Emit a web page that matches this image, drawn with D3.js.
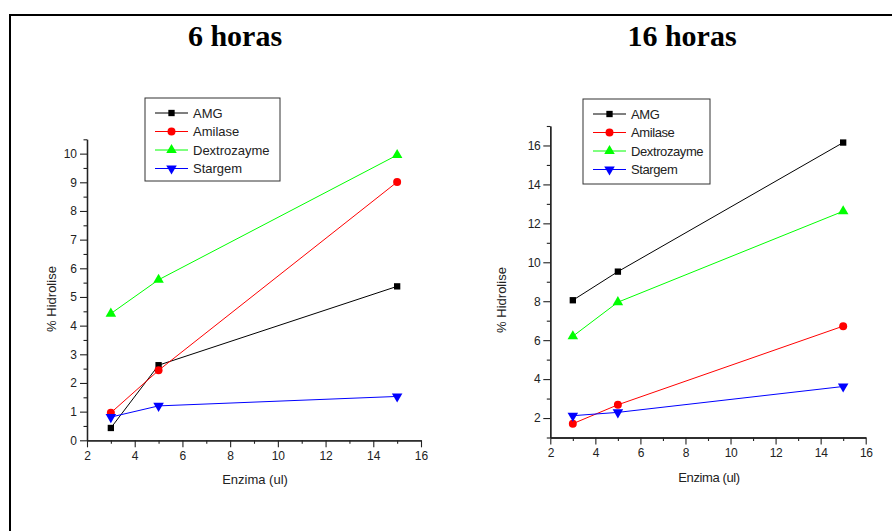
<!DOCTYPE html>
<html>
<head>
<meta charset="utf-8">
<script src="https://cdn.jsdelivr.net/npm/d3@7"></script>
<style>
  body { margin: 0; background: #fff; }
  text { font-family: Arial, "Liberation Sans", sans-serif; }
</style>
</head>
<body>
<div id="container"></div>
<script>
// enzyme volume (ul)
let enzima = [3, 5, 15]
let seriesNames = ['AMG', 'Amilase', 'Dextrozayme', 'Stargem']
let seriesColors = ['#000000', '#ff0000', '#00ff00', '#0000ff']
let seriesSymbols = ['square', 'circle', 'triangle', 'triangleDown']

// % hidrolise after 6 hours
let amg6 = [0.43, 2.62, 5.37]
let amilase6 = [0.96, 2.44, 9.01]
let dextro6 = [4.42, 5.60, 9.95]
let stargem6 = [0.81, 1.20, 1.53]

// % hidrolise after 16 hours
let amg16 = [8.05, 9.52, 16.15]
let amilase16 = [1.71, 2.68, 6.72]
let dextro16 = [6.20, 7.95, 12.62]
let stargem16 = [2.12, 2.29, 3.62]

let xTicks = [2, 4, 6, 8, 10, 12, 14, 16]
let yTicks6 = [0, 1, 2, 3, 4, 5, 6, 7, 8, 9, 10]
let yTicks16 = [2, 4, 6, 8, 10, 12, 14, 16]

let width = 892
let height = 531

let svg = d3.select('#container').append('svg')
  .attr('width', width)
  .attr('height', height)

// outer frame
svg.append('rect')
  .attr('x', 10).attr('y', 15)
  .attr('width', 900).attr('height', 540)
  .attr('fill', 'none')
  .attr('stroke', '#000')
  .attr('stroke-width', 2)

function symbolPath(kind) {
  if (kind == 'square') return d3.symbol(d3.symbolSquare, 40)()
  if (kind == 'circle') return d3.symbol(d3.symbolCircle, 50)()
  return d3.symbol(d3.symbolTriangle, 48)()
}

function drawMarker(g, kind, x, y, color) {
  g.append('path')
    .attr('d', symbolPath(kind))
    .attr('transform', 'translate(' + x + ',' + y + ')' + (kind == 'triangleDown' ? ' rotate(180)' : ''))
    .attr('fill', color)
}

function panel(cfg) {
  let g = svg.append('g')
  let x = d3.scaleLinear().domain([2, 16]).range([cfg.left, cfg.right])
  let y = d3.scaleLinear().domain(cfg.yDomain).range([cfg.bottom, cfg.top])

  // minor ticks
  let xMinor = d3.range(3, 16, 2)
  let yMinor = cfg.yMinor

  g.append('g')
    .attr('transform', 'translate(0,' + cfg.bottom + ')')
    .call(d3.axisBottom(x).tickValues(xMinor).tickFormat('').tickSizeInner(3.5).tickSizeOuter(0))
  g.append('g')
    .attr('transform', 'translate(' + cfg.left + ',0)')
    .call(d3.axisLeft(y).tickValues(yMinor).tickFormat('').tickSizeInner(3.5).tickSizeOuter(0))

  let xa = g.append('g')
    .attr('transform', 'translate(0,' + cfg.bottom + ')')
    .call(d3.axisBottom(x).tickValues(xTicks).tickSizeInner(7).tickSizeOuter(0).tickPadding(4))
  let ya = g.append('g')
    .attr('transform', 'translate(' + cfg.left + ',0)')
    .call(d3.axisLeft(y).tickValues(cfg.yTicks).tickSizeInner(7).tickSizeOuter(0).tickPadding(3))

  g.selectAll('.domain').attr('stroke', '#222').attr('stroke-width', 1.3)
  g.selectAll('.tick line').attr('stroke', '#222').attr('stroke-width', 1.1)
  g.selectAll('.tick text')
    .attr('fill', '#222')
    .style('font-size', '12px')
    .style('letter-spacing', cfg.spacing + 'px')

  // title
  svg.append('text')
    .attr('x', cfg.titleX).attr('y', 46)
    .attr('text-anchor', 'middle')
    .style('font-family', '"Liberation Serif", "Times New Roman", serif')
    .style('font-weight', 'bold')
    .style('font-size', '30px')
    .text(cfg.title)

  // axis labels
  svg.append('text')
    .attr('x', (cfg.left + cfg.right) / 2 + 1)
    .attr('y', cfg.bottom + 44)
    .attr('text-anchor', 'middle')
    .attr('fill', '#222')
    .style('font-size', '13px')
    .style('letter-spacing', cfg.spacing + 'px')
    .text('Enzima (ul)')

  svg.append('text')
    .attr('transform', 'translate(' + cfg.yLabelX + ',' + cfg.yLabelY + ') rotate(-90)')
    .attr('text-anchor', 'middle')
    .attr('fill', '#222')
    .style('font-size', '13px')
    .text('% Hidrolise')

  // series lines and markers
  let line = d3.line().x((d, i) => x(enzima[i])).y(d => y(d))
  cfg.series.forEach(function(vals, s) {
    g.append('path')
      .datum(vals)
      .attr('d', line)
      .attr('fill', 'none')
      .attr('stroke', seriesColors[s])
      .attr('stroke-width', 1)
    vals.forEach(function(v, i) {
      drawMarker(g, seriesSymbols[s], x(enzima[i]), y(v), seriesColors[s])
    })
  })

  // legend
  let lg = svg.append('g')
  lg.append('rect')
    .attr('x', cfg.legend.x).attr('y', cfg.legend.y)
    .attr('width', cfg.legend.w).attr('height', cfg.legend.h)
    .attr('fill', '#fff')
    .attr('stroke', '#333')
    .attr('stroke-width', 1)
  seriesNames.forEach(function(name, s) {
    let ry = cfg.legend.y + 15 + s * 18.5
    let lx = cfg.legend.x + 10
    lg.append('line')
      .attr('x1', lx).attr('x2', lx + 33)
      .attr('y1', ry).attr('y2', ry)
      .attr('stroke', seriesColors[s])
      .attr('stroke-width', 1)
    drawMarker(lg, seriesSymbols[s], lx + 16.5, ry, seriesColors[s])
    lg.append('text')
      .attr('x', lx + 38).attr('y', ry)
      .attr('dy', '0.35em')
      .attr('fill', '#222')
      .style('font-size', '13px')
      .style('letter-spacing', cfg.spacing + 'px')
      .text(name)
  })
}

panel({
  title: '6 horas', titleX: 235,
  left: 87, right: 421, top: 139.3, bottom: 440.3,
  yDomain: [0, 10.5], yTicks: yTicks6,
  yMinor: d3.range(0.5, 10.6, 1),
  yLabelX: 56, yLabelY: 299,
  spacing: 0,
  series: [amg6, amilase6, dextro6, stargem6],
  legend: { x: 145, y: 98, w: 135, h: 83 }
})

panel({
  title: '16 horas', titleX: 682,
  left: 550.3, right: 865.7, top: 126, bottom: 437.5,
  yDomain: [1, 17], yTicks: yTicks16,
  yMinor: d3.range(1, 17.1, 2),
  yLabelX: 506, yLabelY: 300,
  spacing: -0.4,
  series: [amg16, amilase16, dextro16, stargem16],
  legend: { x: 583, y: 99, w: 127, h: 85 }
})
</script>
</body>
</html>
